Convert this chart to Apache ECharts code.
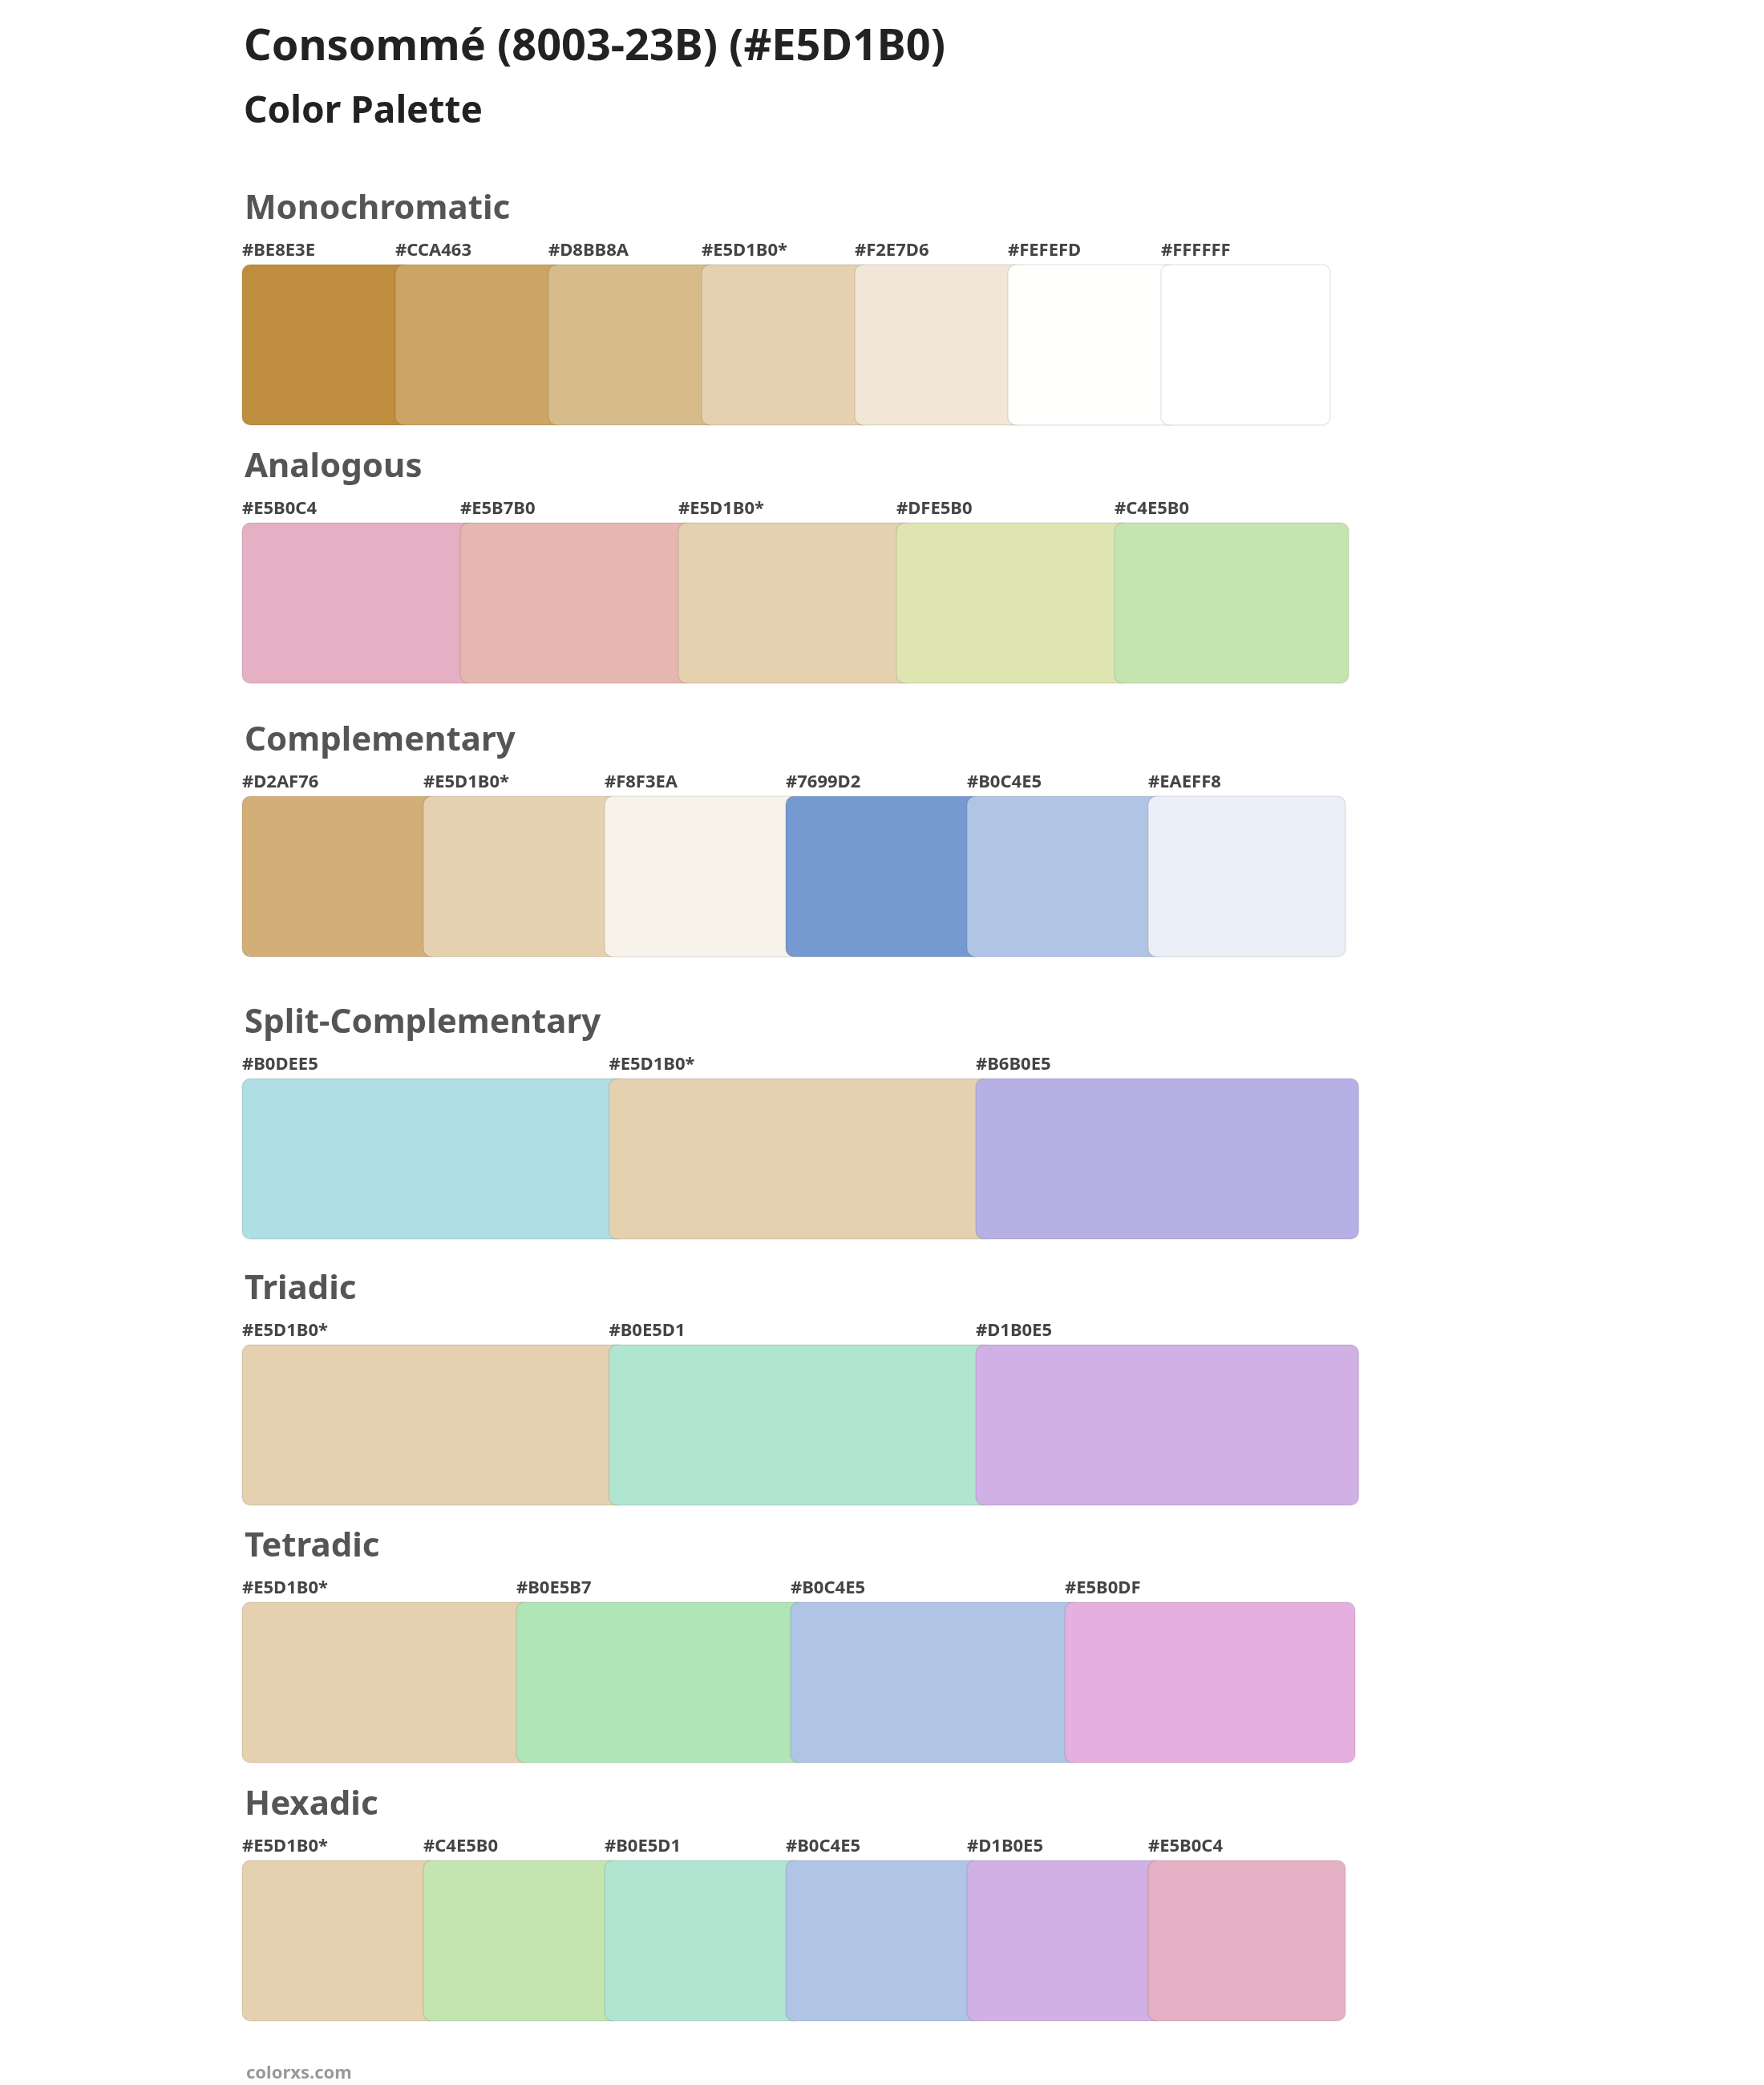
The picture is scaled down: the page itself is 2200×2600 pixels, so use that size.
<!DOCTYPE html>
<html><head><meta charset="utf-8">
<script src="https://cdn.jsdelivr.net/npm/echarts@6/dist/echarts.min.js"></script>
<style>html,body{margin:0;background:#fff}#c{width:2200px;height:2600px}</style>
</head><body><div id="c"></div>
<script>
const sectionNames = ["Monochromatic","Analogous","Complementary","Split-Complementary","Triadic","Tetradic","Hexadic"];
const mono = ["#BE8E3E","#CCA463","#D8BB8A","#E5D1B0*","#F2E7D6","#FEFEFD","#FFFFFF"];
const analogous = ["#E5B0C4","#E5B7B0","#E5D1B0*","#DFE5B0","#C4E5B0"];
const complementary = ["#D2AF76","#E5D1B0*","#F8F3EA","#7699D2","#B0C4E5","#EAEFF8"];
const splitComp = ["#B0DEE5","#E5D1B0*","#B6B0E5"];
const triadic = ["#E5D1B0*","#B0E5D1","#D1B0E5"];
const tetradic = ["#E5D1B0*","#B0E5B7","#B0C4E5","#E5B0DF"];
const hexadic = ["#E5D1B0*","#C4E5B0","#B0E5D1","#B0C4E5","#D1B0E5","#E5B0C4"];
const palettes = [mono, analogous, complementary, splitComp, triadic, tetradic, hexadic];

const layout = [
  {titleY:265, top:330, step:191},
  {titleY:587, top:652, step:272},
  {titleY:928, top:993, step:226},
  {titleY:1280, top:1345, step:457.5},
  {titleY:1612, top:1677, step:457.5},
  {titleY:1933, top:1998, step:342},
  {titleY:2255, top:2320, step:226}
];
const LEFT = 302, H = 200, EXTRA = 20;
const font = "'Noto Sans', sans-serif";

const grids=[], xAxes=[], yAxes=[], series=[];
const titles=[
  {text:"Consommé (8003-23B) (#E5D1B0)", left:LEFT-3, top:28, textStyle:{fontFamily:font,fontSize:54,fontWeight:'bold',color:'#222'}},
  {text:"Color Palette", left:LEFT-3, top:112, textStyle:{fontFamily:font,fontSize:46,fontWeight:'bold',color:'#222'}},
  {text:"colorxs.com", left:LEFT, top:2570, textStyle:{fontFamily:font,fontSize:22,fontWeight:'bold',color:'#999'}}
];
palettes.forEach((p, k) => {
  const L = layout[k];
  titles.push({text:sectionNames[k], left:LEFT-2, top:L.titleY-30, textStyle:{fontFamily:font,fontSize:42,fontWeight:'bold',color:'#555'}});
  grids.push({left:LEFT, top:L.top, width:p.length*L.step, height:H});
  xAxes.push({type:'value', gridIndex:k, min:0, max:p.length, show:false});
  yAxes.push({type:'value', gridIndex:k, min:0, max:1, show:false});
  series.push({
    type:'custom', xAxisIndex:k, yAxisIndex:k, clip:false,
    data:p.map((c,i)=>[i,c]),
    renderItem:(params, api)=>{
      const i = api.value(0);
      const label = p[i];
      const col = label.replace('*','');
      const a = api.coord([i,1]), b = api.coord([i+1,0]);
      return {type:'group', children:[
        {type:'rect', shape:{x:a[0], y:a[1], width:b[0]-a[0]+EXTRA, height:b[1]-a[1], r:10},
         style:{fill:col, stroke:'rgba(0,0,0,0.09)', lineWidth:1.5}},
        {type:'text', style:{text:label, x:a[0], y:a[1]-6, textVerticalAlign:'bottom', fontFamily:font, fontSize:22, fontWeight:'bold', fill:'#444'}}
      ]};
    }
  });
});
const chart = echarts.init(document.getElementById('c'));
chart.setOption({animation:false, backgroundColor:'#fff', title:titles, grid:grids, xAxis:xAxes, yAxis:yAxes, series:series});
</script></body></html>
